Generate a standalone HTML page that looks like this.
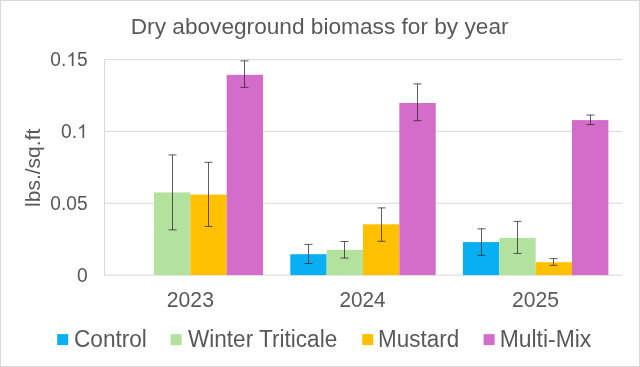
<!DOCTYPE html>
<html><head><meta charset="utf-8"><style>
html,body{margin:0;padding:0;background:#fff;}
#c{position:relative;width:640px;height:367px;overflow:hidden;background:#fff;}
svg{position:absolute;left:0;top:0;will-change:transform;}
text{font-family:"Liberation Sans",sans-serif;fill:#595959;}
</style></head><body><div id="c">
<svg width="640" height="367" viewBox="0 0 640 367">
<rect x="0.5" y="0.5" width="639" height="366" fill="#fff" stroke="#D9D9D9" stroke-width="1"/>
<text x="130.75" y="33.75" font-size="22.65" textLength="377.8" lengthAdjust="spacingAndGlyphs">Dry aboveground biomass for by year</text>
<g transform="translate(87.7,66) scale(0.955,1)"><text x="-22.351" y="0" font-size="20.1" text-anchor="end">0.</text><path transform="translate(-22.351,0) scale(0.009814,-0.009814)" d="M763 0H583V1095Q518 1036 412 977Q307 918 223 888V1054Q374 1122 487 1219Q600 1315 647 1400H763Z" fill="#595959"/><text x="-11.176" y="0" font-size="20.1">5</text></g>
<g transform="translate(87.7,137.9) scale(0.955,1)"><text x="-11.176" y="0" font-size="20.1" text-anchor="end">0.</text><path transform="translate(-11.176,0) scale(0.009814,-0.009814)" d="M763 0H583V1095Q518 1036 412 977Q307 918 223 888V1054Q374 1122 487 1219Q600 1315 647 1400H763Z" fill="#595959"/></g>
<g transform="translate(87.7,209.8) scale(0.955,1)"><text x="0" y="0" font-size="20.1" text-anchor="end">0.05</text></g>
<g transform="translate(87.7,281.7) scale(0.955,1)"><text x="0" y="0" font-size="20.1" text-anchor="end">0</text></g>
<text transform="translate(40.3,167.8) rotate(-90)" font-size="21" text-anchor="middle">lbs./sq.ft</text>
<text x="166.84" y="306.9" font-size="22" textLength="47.08" lengthAdjust="spacingAndGlyphs">2023</text>
<text x="339.46" y="307" font-size="22" textLength="46.14" lengthAdjust="spacingAndGlyphs">2024</text>
<text x="511.94" y="307" font-size="22" textLength="46.97" lengthAdjust="spacingAndGlyphs">2025</text>
<line x1="104" y1="203.27" x2="622" y2="203.27" stroke="#D9D9D9" stroke-width="1"/>
<line x1="104" y1="131.43" x2="622" y2="131.43" stroke="#D9D9D9" stroke-width="1"/>
<line x1="104" y1="59.60" x2="622" y2="59.60" stroke="#D9D9D9" stroke-width="1"/>
<line x1="104.5" y1="59.10" x2="104.5" y2="275.60" stroke="#D9D9D9" stroke-width="1"/>
<line x1="104" y1="275.10" x2="622.5" y2="275.10" stroke="#D9D9D9" stroke-width="1"/>
<rect x="153.98" y="192.40" width="36.35" height="82.70" fill="#B2E29E"/>
<rect x="190.33" y="194.60" width="36.35" height="80.50" fill="#FFC000"/>
<rect x="226.68" y="74.80" width="36.35" height="200.30" fill="#D46CC9"/>
<rect x="290.30" y="254.20" width="36.35" height="20.90" fill="#08B0F2"/>
<rect x="326.65" y="249.80" width="36.35" height="25.30" fill="#B2E29E"/>
<rect x="363.00" y="224.30" width="36.35" height="50.80" fill="#FFC000"/>
<rect x="399.35" y="103.00" width="36.35" height="172.10" fill="#D46CC9"/>
<rect x="462.96" y="242.10" width="36.35" height="33.00" fill="#08B0F2"/>
<rect x="499.32" y="237.90" width="36.35" height="37.20" fill="#B2E29E"/>
<rect x="535.67" y="262.20" width="36.35" height="12.90" fill="#FFC000"/>
<rect x="572.02" y="120.10" width="36.35" height="155.00" fill="#D46CC9"/>
<path d="M172.50 154.90V229.90M168.50 154.90H176.50M168.50 229.90H176.50" stroke="#262626" stroke-opacity="0.75" stroke-width="1" fill="none"/>
<path d="M208.50 162.30V226.40M204.50 162.30H212.50M204.50 226.40H212.50" stroke="#262626" stroke-opacity="0.75" stroke-width="1" fill="none"/>
<path d="M244.50 60.90V87.40M240.50 60.90H248.50M240.50 87.40H248.50" stroke="#262626" stroke-opacity="0.75" stroke-width="1" fill="none"/>
<path d="M308.50 244.40V263.50M304.50 244.40H312.50M304.50 263.50H312.50" stroke="#262626" stroke-opacity="0.75" stroke-width="1" fill="none"/>
<path d="M344.50 241.50V258.10M340.50 241.50H348.50M340.50 258.10H348.50" stroke="#262626" stroke-opacity="0.75" stroke-width="1" fill="none"/>
<path d="M381.50 207.90V241.30M377.50 207.90H385.50M377.50 241.30H385.50" stroke="#262626" stroke-opacity="0.75" stroke-width="1" fill="none"/>
<path d="M417.50 83.90V120.70M413.50 83.90H421.50M413.50 120.70H421.50" stroke="#262626" stroke-opacity="0.75" stroke-width="1" fill="none"/>
<path d="M481.50 228.80V255.30M477.50 228.80H485.50M477.50 255.30H485.50" stroke="#262626" stroke-opacity="0.75" stroke-width="1" fill="none"/>
<path d="M517.50 221.40V253.40M513.50 221.40H521.50M513.50 253.40H521.50" stroke="#262626" stroke-opacity="0.75" stroke-width="1" fill="none"/>
<path d="M553.50 258.60V265.30M549.50 258.60H557.50M549.50 265.30H557.50" stroke="#262626" stroke-opacity="0.75" stroke-width="1" fill="none"/>
<path d="M590.50 115.05V124.60M586.50 115.05H594.50M586.50 124.60H594.50" stroke="#262626" stroke-opacity="0.75" stroke-width="1" fill="none"/>
<rect x="57.2" y="334.1" width="11" height="11" fill="#08B0F2"/>
<text x="74" y="346.6" font-size="23" textLength="72.86" lengthAdjust="spacingAndGlyphs">Control</text>
<rect x="170.6" y="334.1" width="11" height="11" fill="#B2E29E"/>
<text x="187.9" y="346.6" font-size="23" textLength="149.38" lengthAdjust="spacingAndGlyphs">Winter Triticale</text>
<rect x="362.2" y="334.1" width="11" height="11" fill="#FFC000"/>
<text x="378.1" y="346.6" font-size="23" textLength="81.1" lengthAdjust="spacingAndGlyphs">Mustard</text>
<rect x="483.6" y="334.1" width="11" height="11" fill="#D46CC9"/>
<text x="499.66" y="346.6" font-size="23" textLength="91.66" lengthAdjust="spacingAndGlyphs">Multi-Mix</text>
</svg></div></body></html>
